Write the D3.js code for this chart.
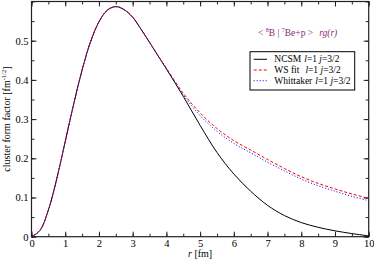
<!DOCTYPE html>
<html>
<head>
<meta charset="utf-8">
<script src="https://cdn.jsdelivr.net/npm/d3@7"></script>
<style>
  body { margin: 0; background: #fff; }
  svg text { font-family: "Liberation Serif", "Times New Roman", Times, serif; }
</style>
</head>
<body>
<div id="chart"></div>
<script>
// radial grid [fm]
var rGrid = [0, 0.25, 0.5, 0.75, 1, 1.25, 1.5, 1.75, 2, 2.25, 2.5, 2.75, 3, 3.25, 3.5, 3.75, 4,
             4.5, 5, 5.5, 6, 6.5, 7, 7.5, 8, 8.5, 9, 9.5, 10];
var ncsm = [0, 0.016, 0.068, 0.148, 0.243, 0.338, 0.425, 0.497, 0.548, 0.578, 0.587, 0.579, 0.560, 0.529, 0.496, 0.462, 0.428,
            0.358, 0.284, 0.215, 0.160, 0.116, 0.080, 0.054, 0.036, 0.024, 0.015, 0.008, 0.002];
var wsFit = [0, 0.016, 0.068, 0.148, 0.243, 0.338, 0.425, 0.497, 0.548, 0.578, 0.587, 0.579, 0.560, 0.529, 0.496, 0.462, 0.430,
             0.366, 0.316, 0.276, 0.245, 0.221, 0.197, 0.174, 0.153, 0.136, 0.122, 0.109, 0.098];
var whittaker = [0, 0.016, 0.068, 0.148, 0.243, 0.338, 0.425, 0.497, 0.548, 0.578, 0.587, 0.579, 0.560, 0.529, 0.496, 0.462, 0.429,
                 0.362, 0.309, 0.269, 0.238, 0.214, 0.190, 0.168, 0.147, 0.130, 0.116, 0.103, 0.092];

var xTicks = [0, 1, 2, 3, 4, 5, 6, 7, 8, 9, 10];
var yTicks = [0, 0.1, 0.2, 0.3, 0.4, 0.5];
var yTickLabels = ["0", "0.1", "0.2", "0.3", "0.4", "0.5"];

var series = [
    {name: "NCSM", values: ncsm, color: "#000000", dash: null, gap: 3},
    {name: "WS fit", values: wsFit, color: "#ff0000", dash: "3,2", gap: 6},
    {name: "Whittaker", values: whittaker, color: "#0000ff", dash: "1,2", gap: 3}
];

var W = 374, H = 259;
var margin = {top: 1.5, right: 5.3, bottom: 22.3, left: 31.5};
var width = W - margin.left - margin.right;
var height = H - margin.top - margin.bottom;
var serif = "'Liberation Serif', 'Times New Roman', Times, serif";

var svg = d3.select("#chart").append("svg")
    .attr("width", W)
    .attr("height", H);

var g = svg.append("g")
    .attr("transform", "translate(" + margin.left + "," + margin.top + ")");

var x = d3.scaleLinear().domain([0, 10]).range([0, width]);
var y = d3.scaleLinear().domain([0, 0.6]).range([height, 0]);

// inward ticks on all four sides (grace style)
var xMinor = d3.range(0, 10.01, 0.5);
var yMinor = d3.range(0, 0.601, 0.05);

function tickAxis(axis) {
    return axis.tickSizeOuter(0).tickPadding(3);
}

g.append("g")
    .attr("transform", "translate(0," + height + ")")
    .call(tickAxis(d3.axisBottom(x).tickValues(xMinor).tickSize(-3).tickFormat("")));
g.append("g")
    .attr("transform", "translate(0," + height + ")")
    .call(tickAxis(d3.axisBottom(x).tickValues(xTicks).tickSize(-5).tickPadding(4).tickFormat(d3.format("d"))));
g.append("g")
    .call(tickAxis(d3.axisTop(x).tickValues(xMinor).tickSize(-3).tickFormat("")));
g.append("g")
    .call(tickAxis(d3.axisTop(x).tickValues(xTicks).tickSize(-5).tickFormat("")));

g.append("g")
    .call(tickAxis(d3.axisLeft(y).tickValues(yMinor).tickSize(-3).tickFormat("")));
g.append("g")
    .call(tickAxis(d3.axisLeft(y).tickValues(yTicks).tickSize(-5).tickPadding(4)
        .tickFormat(function (d, i) { return yTickLabels[i]; })));
g.append("g")
    .attr("transform", "translate(" + width + ",0)")
    .call(tickAxis(d3.axisRight(y).tickValues(yMinor).tickSize(-3).tickFormat("")));
g.append("g")
    .attr("transform", "translate(" + width + ",0)")
    .call(tickAxis(d3.axisRight(y).tickValues(yTicks).tickSize(-5).tickFormat("")));

g.selectAll(".domain").remove();
g.selectAll("g").attr("font-family", serif);
g.selectAll(".tick line").attr("stroke", "#222").attr("stroke-width", 1);
g.selectAll(".tick text")
    .attr("fill", "#000")
    .attr("font-family", serif)
    .attr("font-size", 10.5);

// frame
g.append("rect")
    .attr("width", width)
    .attr("height", height)
    .attr("fill", "none")
    .attr("stroke", "#222")
    .attr("stroke-width", 1.2);

// curves
var line = d3.line()
    .x(function (d, i) { return x(rGrid[i]); })
    .y(function (d) { return y(d); })
    .curve(d3.curveCatmullRom.alpha(0.5));

series.forEach(function (s) {
    g.append("path")
        .datum(s.values)
        .attr("fill", "none")
        .attr("stroke", s.color)
        .attr("stroke-width", 1)
        .attr("stroke-dasharray", s.dash)
        .attr("d", line);
});

// axis titles
var xt = svg.append("text")
    .attr("x", margin.left + width / 2)
    .attr("y", 257)
    .attr("text-anchor", "middle")
    .attr("font-family", serif)
    .attr("font-size", 10);
xt.append("tspan").style("font-style", "italic").text("r");
xt.append("tspan").text(" [fm]");

var yt = svg.append("text")
    .attr("transform", "translate(10," + (margin.top + height / 2) + ") rotate(-90)")
    .attr("text-anchor", "middle")
    .attr("font-family", serif)
    .attr("font-size", 10);
yt.append("tspan").text("cluster form factor [fm");
yt.append("tspan").attr("dy", -4).attr("font-size", 6.5).text("-1/2");
yt.append("tspan").attr("dy", 4).text("]");

// title
var tt = svg.append("text")
    .attr("x", 258)
    .attr("y", 36)
    .attr("fill", "#8b2a7b")
    .attr("font-family", serif)
    .attr("font-size", 9.5);
tt.append("tspan").text("< ");
tt.append("tspan").attr("dy", -4).attr("font-size", 6).text("8");
tt.append("tspan").attr("dy", 4).text("B | ");
tt.append("tspan").attr("dy", -4).attr("font-size", 6).text("7");
tt.append("tspan").attr("dy", 4).text("Be+p >");
tt.append("tspan").attr("dx", 6).style("font-style", "italic").text("rg(r)");

// legend
var legend = svg.append("g").attr("transform", "translate(250,51.7)");
legend.append("rect")
    .attr("width", 104.7)
    .attr("height", 38.3)
    .attr("fill", "#fff")
    .attr("stroke", "#000")
    .attr("stroke-width", 1);

series.forEach(function (s, i) {
    var ly = 7.6 + i * 10.7;
    legend.append("line")
        .attr("x1", 3.7).attr("x2", 17)
        .attr("y1", ly).attr("y2", ly)
        .attr("stroke", s.color)
        .attr("stroke-width", 1)
        .attr("stroke-dasharray", s.dash);
    var t = legend.append("text")
        .attr("x", 24.3)
        .attr("y", ly + 3)
        .attr("font-family", serif)
        .attr("font-size", 9.5);
    t.append("tspan").text(s.name);
    t.append("tspan").attr("dx", s.gap).style("font-style", "italic").text("l");
    t.append("tspan").text("=1 ");
    t.append("tspan").style("font-style", "italic").text("j");
    t.append("tspan").text("=3/2");
});
</script>
</body>
</html>
